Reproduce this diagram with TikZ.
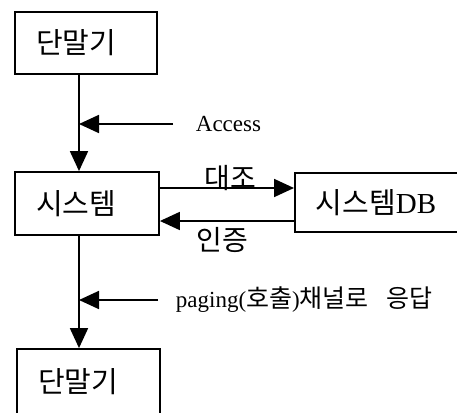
\documentclass[tikz,border=0pt]{standalone}
\usepackage{fontspec}
\setmainfont{Liberation Serif}
\newfontfamily\kr{Noto Sans CJK KR}
\usetikzlibrary{arrows.meta,calc}
\begin{document}
\begin{tikzpicture}[x=1pt,y=-1pt,line width=1.8pt,
box/.style={draw,inner xsep=21pt,inner ysep=0pt,align=left,text width=#1,minimum height=62pt,font=\kr\fontsize{29}{32}\selectfont},
arr/.style={-{Triangle[length=20pt,width=18pt]}},
lbl/.style={inner sep=0pt,font=\kr\fontsize{28}{30}\selectfont},
note/.style={inner sep=0pt,anchor=west,font=\fontsize{23}{26}\selectfont}]
\useasboundingbox (0,0) rectangle (457,412);
\clip (0,0) rectangle (457,412);
\node[box=100pt] (t1) at (86,43) {단말기};
\node[box=102pt,minimum height=63pt] (sys) at (87,203.5) {시스템};
\node[box=160pt,minimum height=59pt,anchor=west] (db) at (294,202.5) {시스템{\rmfamily DB}};
\node[box=101pt,minimum height=66pt] (t2) at (88.5,382) {단말기};
\coordinate (axis) at (79,0);
\draw[arr] (t1.south -| axis) -- (sys.north -| axis);
\draw[arr] (sys.south -| axis) -- (t2.north -| axis);
\coordinate (acc) at (173,124);
\draw[arr] (acc) -- (acc -| axis);
\node[note] (acct) at (195,124) {Access};
\coordinate (dzy) at (0,188);
\coordinate (ijy) at (0,221);
\draw[arr] (sys.east |- dzy) -- (db.west |- dzy);
\draw[arr] (db.west |- ijy) -- (sys.east |- ijy);
\node[lbl] (dz) at (230,178) {대조};
\node[lbl] (ij) at (222,240) {인증};
\coordinate (pg) at (158,300);
\draw[arr] (pg) -- (pg -| axis);
\node[note] (pgt) at (175,300) {paging({\kr\fontsize{25}{28}\selectfont 호출}){\kr\fontsize{25}{28}\selectfont 채널로\hspace{18pt}응답}};
\end{tikzpicture}
\end{document}
